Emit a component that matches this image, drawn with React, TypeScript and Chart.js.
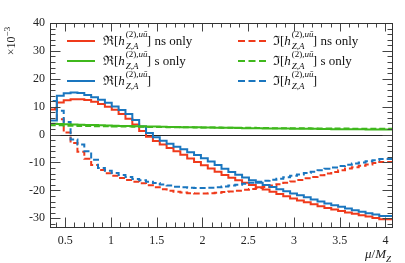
import React, { useEffect, useRef } from 'react';
import { Chart, registerables } from 'chart.js';

Chart.register(...registerables);

// Histogram bin edges in mu / M_Z (50 bins)
const binEdges = [
  0.3333, 0.4083, 0.4833, 0.5583, 0.6333, 0.7083, 0.7833, 0.8583, 0.9333, 1.0083,
  1.0833, 1.1583, 1.2333, 1.3083, 1.3833, 1.4583, 1.5333, 1.6083, 1.6833, 1.7583,
  1.8333, 1.9083, 1.9833, 2.0583, 2.1333, 2.2083, 2.2833, 2.3583, 2.4333, 2.5083,
  2.5833, 2.6583, 2.7333, 2.8083, 2.8833, 2.9583, 3.0333, 3.1083, 3.1833, 3.2583,
  3.3333, 3.4083, 3.4833, 3.5583, 3.6333, 3.7083, 3.7833, 3.8583, 3.9333, 4.0083,
  4.0833,
];

// Re[h] ns only (red solid)
const reNsOnly = [
  10, 9, 11.5, 12.3, 12.7, 12.7, 12.4, 11.8, 11.0, 10.0,
  8.9, 7.4, 5.7, 3.6, 1.3, -0.8, -2.3, -3.6, -4.8, -6.0,
  -7.2, -8.6, -9.8, -11.0, -12.2, -13.3, -14.5, -15.5, -16.4, -17.3,
  -18.1, -18.9, -19.7, -20.5, -21.3, -22.1, -22.9, -23.6, -24.3, -25.0,
  -25.7, -26.3, -26.9, -27.4, -27.9, -28.4, -28.9, -29.4, -29.9, -30.4,
];

// Re[h] s only (green solid)
const reSOnly = [
  4.0, 3.9, 3.8, 3.7, 3.6, 3.5, 3.45, 3.4, 3.3, 3.25,
  3.2, 3.1, 3.05, 3.0, 2.95, 2.9, 2.85, 2.8, 2.75, 2.7,
  2.65, 2.6, 2.6, 2.55, 2.5, 2.45, 2.4, 2.4, 2.35, 2.3,
  2.3, 2.25, 2.2, 2.2, 2.15, 2.15, 2.1, 2.1, 2.05, 2.05,
  2.0, 2.0, 1.95, 1.95, 1.9, 1.9, 1.9, 1.85, 1.85, 1.8,
];

// Re[h] total (blue solid)
const reTotal = [
  7, 5, 13.9, 14.8, 15.1, 14.9, 14.2, 13.4, 12.5, 11.4,
  10.1, 8.8, 7.4, 5.2, 2.9, 0.6, -1.0, -2.2, -3.3, -4.4,
  -5.3, -6.3, -7.3, -8.5, -9.7, -10.9, -12.3, -13.4, -14.4, -15.4,
  -16.4, -17.3, -18.1, -18.8, -19.6, -20.3, -21.1, -21.8, -22.5, -23.3,
  -24.0, -24.7, -25.3, -25.9, -26.5, -27.1, -27.7, -28.2, -28.7, -29.2,
];

// Im[h] ns only (red dashed)
const imNsOnly = [
  14.5, 9.5, 5.5, 0.7, -3.0, -6.2, -8.7, -10.9, -12.7, -13.9,
  -14.8, -15.6, -16.3, -16.9, -17.5, -18.2, -18.9, -19.6, -20.1, -20.5,
  -20.8, -21.0, -21.1, -21.1, -21.0, -20.9, -20.6, -20.4, -20.1, -19.8,
  -19.5, -19.2, -18.8, -18.3, -17.8, -17.3, -16.8, -16.3, -15.7, -15.2,
  -14.6, -14.0, -13.4, -12.8, -12.2, -11.7, -11.2, -10.7, -10.2, -9.8,
];

// Im[h] s only (green dashed)
const imSOnly = [
  3.4, 3.3, 3.3, 3.2, 3.2, 3.1, 3.1, 3.0, 3.0, 2.95,
  2.9, 2.9, 2.85, 2.8, 2.8, 2.75, 2.7, 2.7, 2.65, 2.65,
  2.6, 2.6, 2.55, 2.55, 2.5, 2.5, 2.45, 2.45, 2.4, 2.4,
  2.4, 2.35, 2.35, 2.3, 2.3, 2.3, 2.25, 2.25, 2.25, 2.2,
  2.2, 2.2, 2.15, 2.15, 2.15, 2.1, 2.1, 2.1, 2.1, 2.05,
];

// Im[h] total (blue dashed)
const imTotal = [
  17.5, 12, 8.5, 4.5, -1.8, -3.6, -6.0, -9.0, -12.0, -13.0,
  -13.8, -14.5, -15.2, -15.9, -16.4, -16.9, -17.4, -17.9, -18.3, -18.7,
  -18.9, -19.1, -19.2, -19.2, -19.1, -18.9, -18.6, -18.3, -18.0, -17.6,
  -17.3, -16.9, -16.6, -16.2, -15.8, -15.3, -14.8, -14.3, -13.8, -13.3,
  -12.8, -12.3, -11.8, -11.3, -10.8, -10.4, -10.0, -9.6, -9.2, -8.8,
];

const xTickLabels = [0.5, 1, 1.5, 2, 2.5, 3, 3.5, 4];
const yTickLabels = [-30, -20, -10, 0, 10, 20, 30, 40];

const RED = '#ef3a1b';
const GREEN = '#3fb81c';
const BLUE = '#1a76bf';
const DASH = [6, 3];

const SERIF = '"Liberation Serif", "DejaVu Serif", serif';

function histPoints(vals: number[]) {
  const pts = vals.map((v, i) => ({ x: binEdges[i], y: v }));
  pts.push({ x: binEdges[vals.length], y: vals[vals.length - 1] });
  return pts;
}

const framePlugin = {
  id: 'frameTicks',
  beforeDatasetsDraw(chart: any) {
    const { ctx, chartArea: a, scales } = chart;
    const y0 = Math.round(scales.y.getPixelForValue(0)) + 0.5;
    ctx.save();
    ctx.strokeStyle = '#222';
    ctx.lineWidth = 1;
    ctx.beginPath();
    ctx.moveTo(a.left, y0);
    ctx.lineTo(a.right, y0);
    ctx.stroke();
    ctx.restore();
  },
  afterDatasetsDraw(chart: any) {
    const { ctx, chartArea: a, scales } = chart;
    const L = Math.round(a.left) + 0.5;
    const R = Math.round(a.right) - 0.5;
    const T = Math.round(a.top) + 0.5;
    const B = Math.round(a.bottom) - 0.5;
    ctx.save();
    ctx.strokeStyle = '#444';
    ctx.lineWidth = 1;
    ctx.beginPath();
    // x ticks (minor every 0.1, major every 0.5)
    for (let k = 4; k <= 40; k++) {
      const v = k / 10;
      const px = Math.round(scales.x.getPixelForValue(v)) + 0.5;
      const major = k % 5 === 0;
      const len = major ? 10 : 5;
      ctx.moveTo(px, B);
      ctx.lineTo(px, B - len);
      ctx.moveTo(px, T);
      ctx.lineTo(px, T + (major ? 8 : 4));
    }
    // y ticks (minor every 2, major every 10)
    for (let v = -32; v <= 40; v += 2) {
      const py = Math.round(scales.y.getPixelForValue(v)) + 0.5;
      const major = v % 10 === 0;
      const len = major ? 10 : 5;
      ctx.moveTo(L, py);
      ctx.lineTo(L + len, py);
      ctx.moveTo(R, py);
      ctx.lineTo(R - len, py);
    }
    ctx.stroke();
    ctx.strokeStyle = '#333';
    ctx.strokeRect(L, T, R - L, B - T);
    ctx.restore();
  },
};

function LegendEntry(props: {
  left: number;
  top: number;
  lineLeft: number;
  color: string;
  dashed: boolean;
  op: string;
  tail: string;
}) {
  const { left, top, lineLeft, color, dashed, op, tail } = props;
  return (
    <>
      <svg
        style={{ position: 'absolute', left: lineLeft, top: top + 5, overflow: 'visible' }}
        width={28}
        height={4}
      >
        <line
          x1={0}
          y1={2}
          x2={28}
          y2={2}
          stroke={color}
          strokeWidth={2}
          strokeDasharray={dashed ? '7 3.5' : undefined}
        />
      </svg>
      <div
        style={{
          position: 'absolute',
          left,
          top,
          font: `13px ${SERIF}`,
          lineHeight: '13px',
          whiteSpace: 'nowrap',
          color: '#111',
        }}
      >
        <span>{op}[</span>
        <i>h</i>
        <span
          style={{
            display: 'inline-block',
            position: 'relative',
            width: 22,
            height: 13,
            verticalAlign: 'top',
          }}
        >
          <span style={{ position: 'absolute', left: 1, top: -4, fontSize: 9, lineHeight: '9px' }}>
            (2),<i>uū</i>
          </span>
          <span style={{ position: 'absolute', left: 1, top: 8, fontSize: 9, lineHeight: '9px' }}>
            <i>Z,A</i>
          </span>
        </span>
        <span>]{tail}</span>
      </div>
    </>
  );
}

export default function App() {
  const ref = useRef<HTMLCanvasElement | null>(null);

  useEffect(() => {
    if (!ref.current) return;
    const mk = (data: number[], color: string, dashed: boolean) => ({
      data: histPoints(data),
      borderColor: color,
      backgroundColor: color,
      borderWidth: 2,
      borderDash: dashed ? DASH : [],
      stepped: 'after' as const,
      pointRadius: 0,
      fill: false,
    });
    const chart = new Chart(ref.current, {
      type: 'line',
      data: {
        datasets: [
          mk(reSOnly, GREEN, false),
          mk(imSOnly, GREEN, true),
          mk(reTotal, BLUE, false),
          mk(imTotal, BLUE, true),
          mk(reNsOnly, RED, false),
          mk(imNsOnly, RED, true),
        ],
      },
      options: {
        responsive: false,
        animation: false,
        devicePixelRatio: 1,
        layout: { padding: { top: 23, right: 12, left: 0, bottom: 0 } },
        plugins: { legend: { display: false }, tooltip: { enabled: false } },
        scales: {
          x: {
            type: 'linear',
            min: 0.3333,
            max: 4.0833,
            grid: { display: false, drawTicks: false },
            border: { display: false },
            afterBuildTicks: (s: any) => {
              s.ticks = xTickLabels.map((v) => ({ value: v }));
            },
            afterFit: (s: any) => {
              s.height = 35;
            },
            ticks: {
              autoSkip: false,
              maxRotation: 0,
              padding: 6,
              color: '#222',
              font: { family: SERIF, size: 12 },
              callback: (v: any) => String(v),
            },
          },
          y: {
            type: 'linear',
            min: -33.5,
            max: 40,
            grid: { display: false, drawTicks: false },
            border: { display: false },
            afterBuildTicks: (s: any) => {
              s.ticks = yTickLabels.map((v) => ({ value: v }));
            },
            afterFit: (s: any) => {
              s.width = 50;
            },
            ticks: {
              autoSkip: false,
              padding: 5,
              color: '#222',
              font: { family: SERIF, size: 12 },
              callback: (v: any) => (v < 0 ? '-' + Math.abs(v) : String(v)),
            },
          },
        },
      },
      plugins: [framePlugin],
    } as any);
    return () => chart.destroy();
  }, []);

  return (
    <div style={{ position: 'fixed', left: 0, top: 0, width: 405, height: 263, background: '#fff' }}>
      <canvas ref={ref} width={405} height={263} style={{ display: 'block', width: 405, height: 263 }} />
      <div
        style={{
          position: 'absolute',
          left: 10,
          top: 41,
          transform: 'translate(-50%, -50%) rotate(-90deg)',
          font: `12px ${SERIF}`,
          whiteSpace: 'nowrap',
          color: '#222',
        }}
      >
        ×10<sup style={{ fontSize: 9 }}>−3</sup>
      </div>
      <div
        style={{
          position: 'absolute',
          right: 14,
          top: 246,
          font: `13px ${SERIF}`,
          whiteSpace: 'nowrap',
          color: '#222',
        }}
      >
        <i>μ</i>/<i>M</i>
        <sub style={{ fontSize: 9 }}>
          <i>Z</i>
        </sub>
      </div>
      <LegendEntry left={103} top={34} lineLeft={67} color={RED} dashed={false} op="ℜ" tail=" ns only" />
      <LegendEntry left={103} top={54} lineLeft={67} color={GREEN} dashed={false} op="ℜ" tail=" s only" />
      <LegendEntry left={103} top={74} lineLeft={67} color={BLUE} dashed={false} op="ℜ" tail="" />
      <LegendEntry left={273} top={34} lineLeft={238} color={RED} dashed={true} op="ℑ" tail=" ns only" />
      <LegendEntry left={273} top={54} lineLeft={238} color={GREEN} dashed={true} op="ℑ" tail=" s only" />
      <LegendEntry left={273} top={74} lineLeft={238} color={BLUE} dashed={true} op="ℑ" tail="" />
    </div>
  );
}
